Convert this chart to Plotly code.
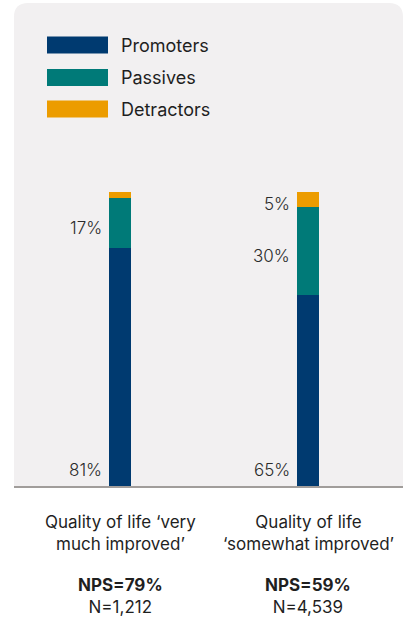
import plotly.graph_objects as go

# ---- data ----
categories = ["very much", "somewhat"]
category_labels = ["Quality of life ‘very<br>much improved’", "Quality of life<br>‘somewhat improved’"]
series_names = ["Promoters", "Passives", "Detractors"]
promoters = [81, 65]
passives = [17, 30]
detractors = [2, 5]
nps_labels = ["NPS=79%", "NPS=59%"]
n_labels = ["N=1,212", "N=4,539"]
show_label = {"Passives": [True, True], "Detractors": [False, True]}

colors = {"Promoters": "#003a70", "Passives": "#007a78", "Detractors": "#ec9c00"}
FONT = "Inter"
W, H = 403, 619
ML, MR, MT, MB = 14, 0, 3, 133
PW, PH = W - ML - MR, H - MT - MB


def px_x(px):
    return (px - ML) / PW


def px_y(py):
    return (H - MB - py) / PH


fig = go.Figure()
values = {"Promoters": promoters, "Passives": passives, "Detractors": detractors}
for name in series_names:
    fig.add_trace(go.Bar(x=categories, y=values[name], name=name,
                         marker=dict(color=colors[name], line=dict(width=0)),
                         width=0.122, showlegend=False, hoverinfo="skip"))

annotations = []
pct_font = dict(family=FONT, size=17, color="#2b2b2b", weight=300)
# percentage labels
for i, c in enumerate(categories):
    annotations.append(dict(x=c, y=0, xref="x", yref="y", text=f"{promoters[i]}%",
                            showarrow=False, xanchor="right", yanchor="middle",
                            xshift=-16, yshift=16, font=pct_font))
    base = promoters[i]
    for name, vals in (("Passives", passives), ("Detractors", detractors)):
        if show_label[name][i]:
            annotations.append(dict(x=c, y=base + vals[i] / 2, xref="x", yref="y",
                                    text=f"{vals[i]}%", showarrow=False,
                                    xanchor="right", yanchor="middle",
                                    xshift=-16, yshift=-5, font=pct_font))
        base += vals[i]
    # category labels
    annotations.append(dict(x=c, y=0, xref="x", yref="y", text=category_labels[i],
                            showarrow=False, xanchor="center", yanchor="top",
                            yshift=-24, font=dict(family=FONT, size=17, color="#1f1f1f")))
    annotations.append(dict(x=c, y=0, xref="x", yref="y",
                            text=f"<b>{nps_labels[i]}</b><br>{n_labels[i]}",
                            showarrow=False, xanchor="center", yanchor="top",
                            yshift=-87, font=dict(family=FONT, size=17, color="#1f1f1f")))

shapes = []
# panel with rounded top corners
rx, ry = 14 / PW, 14 / PH
shapes.append(dict(type="path", xref="paper", yref="paper", layer="below",
                   path=f"M 0,0 L 0,{1-ry} Q 0,1 {rx},1 L {1-rx},1 Q 1,1 1,{1-ry} L 1,0 Z",
                   fillcolor="#f2f0f1", line=dict(width=0)))
# legend
legend_rows = [45, 77.5, 109]
for name, cy in zip(series_names, legend_rows):
    shapes.append(dict(type="rect", xref="paper", yref="paper",
                       x0=px_x(47), x1=px_x(108), y0=px_y(cy + 8.5), y1=px_y(cy - 8.5),
                       fillcolor=colors[name], line=dict(width=0)))
    annotations.append(dict(x=px_x(119), y=px_y(cy), xref="paper", yref="paper",
                            text=name, showarrow=False, xanchor="left", yanchor="middle",
                            font=dict(family=FONT, size=18, color="#1f1f1f")))

fig.update_layout(
    width=W, height=H,
    margin=dict(l=ML, r=MR, t=MT, b=MB),
    paper_bgcolor="white", plot_bgcolor="rgba(0,0,0,0)",
    barmode="stack", showlegend=False, hovermode=False,
    annotations=annotations, shapes=shapes,
    xaxis=dict(type="category", range=[-106 / 188, 283 / 188], showticklabels=False,
               showgrid=False, zeroline=False, showline=True, linecolor="#a19d9b",
               linewidth=2, ticks="", fixedrange=True),
    yaxis=dict(range=[0, 100 * PH / 294], visible=False, showgrid=False, zeroline=False,
               fixedrange=True),
)

fig.write_html("out.html", config={"displayModeBar": False, "staticPlot": True},
               post_script="document.body.style.margin='0';document.body.style.overflow='hidden';")
